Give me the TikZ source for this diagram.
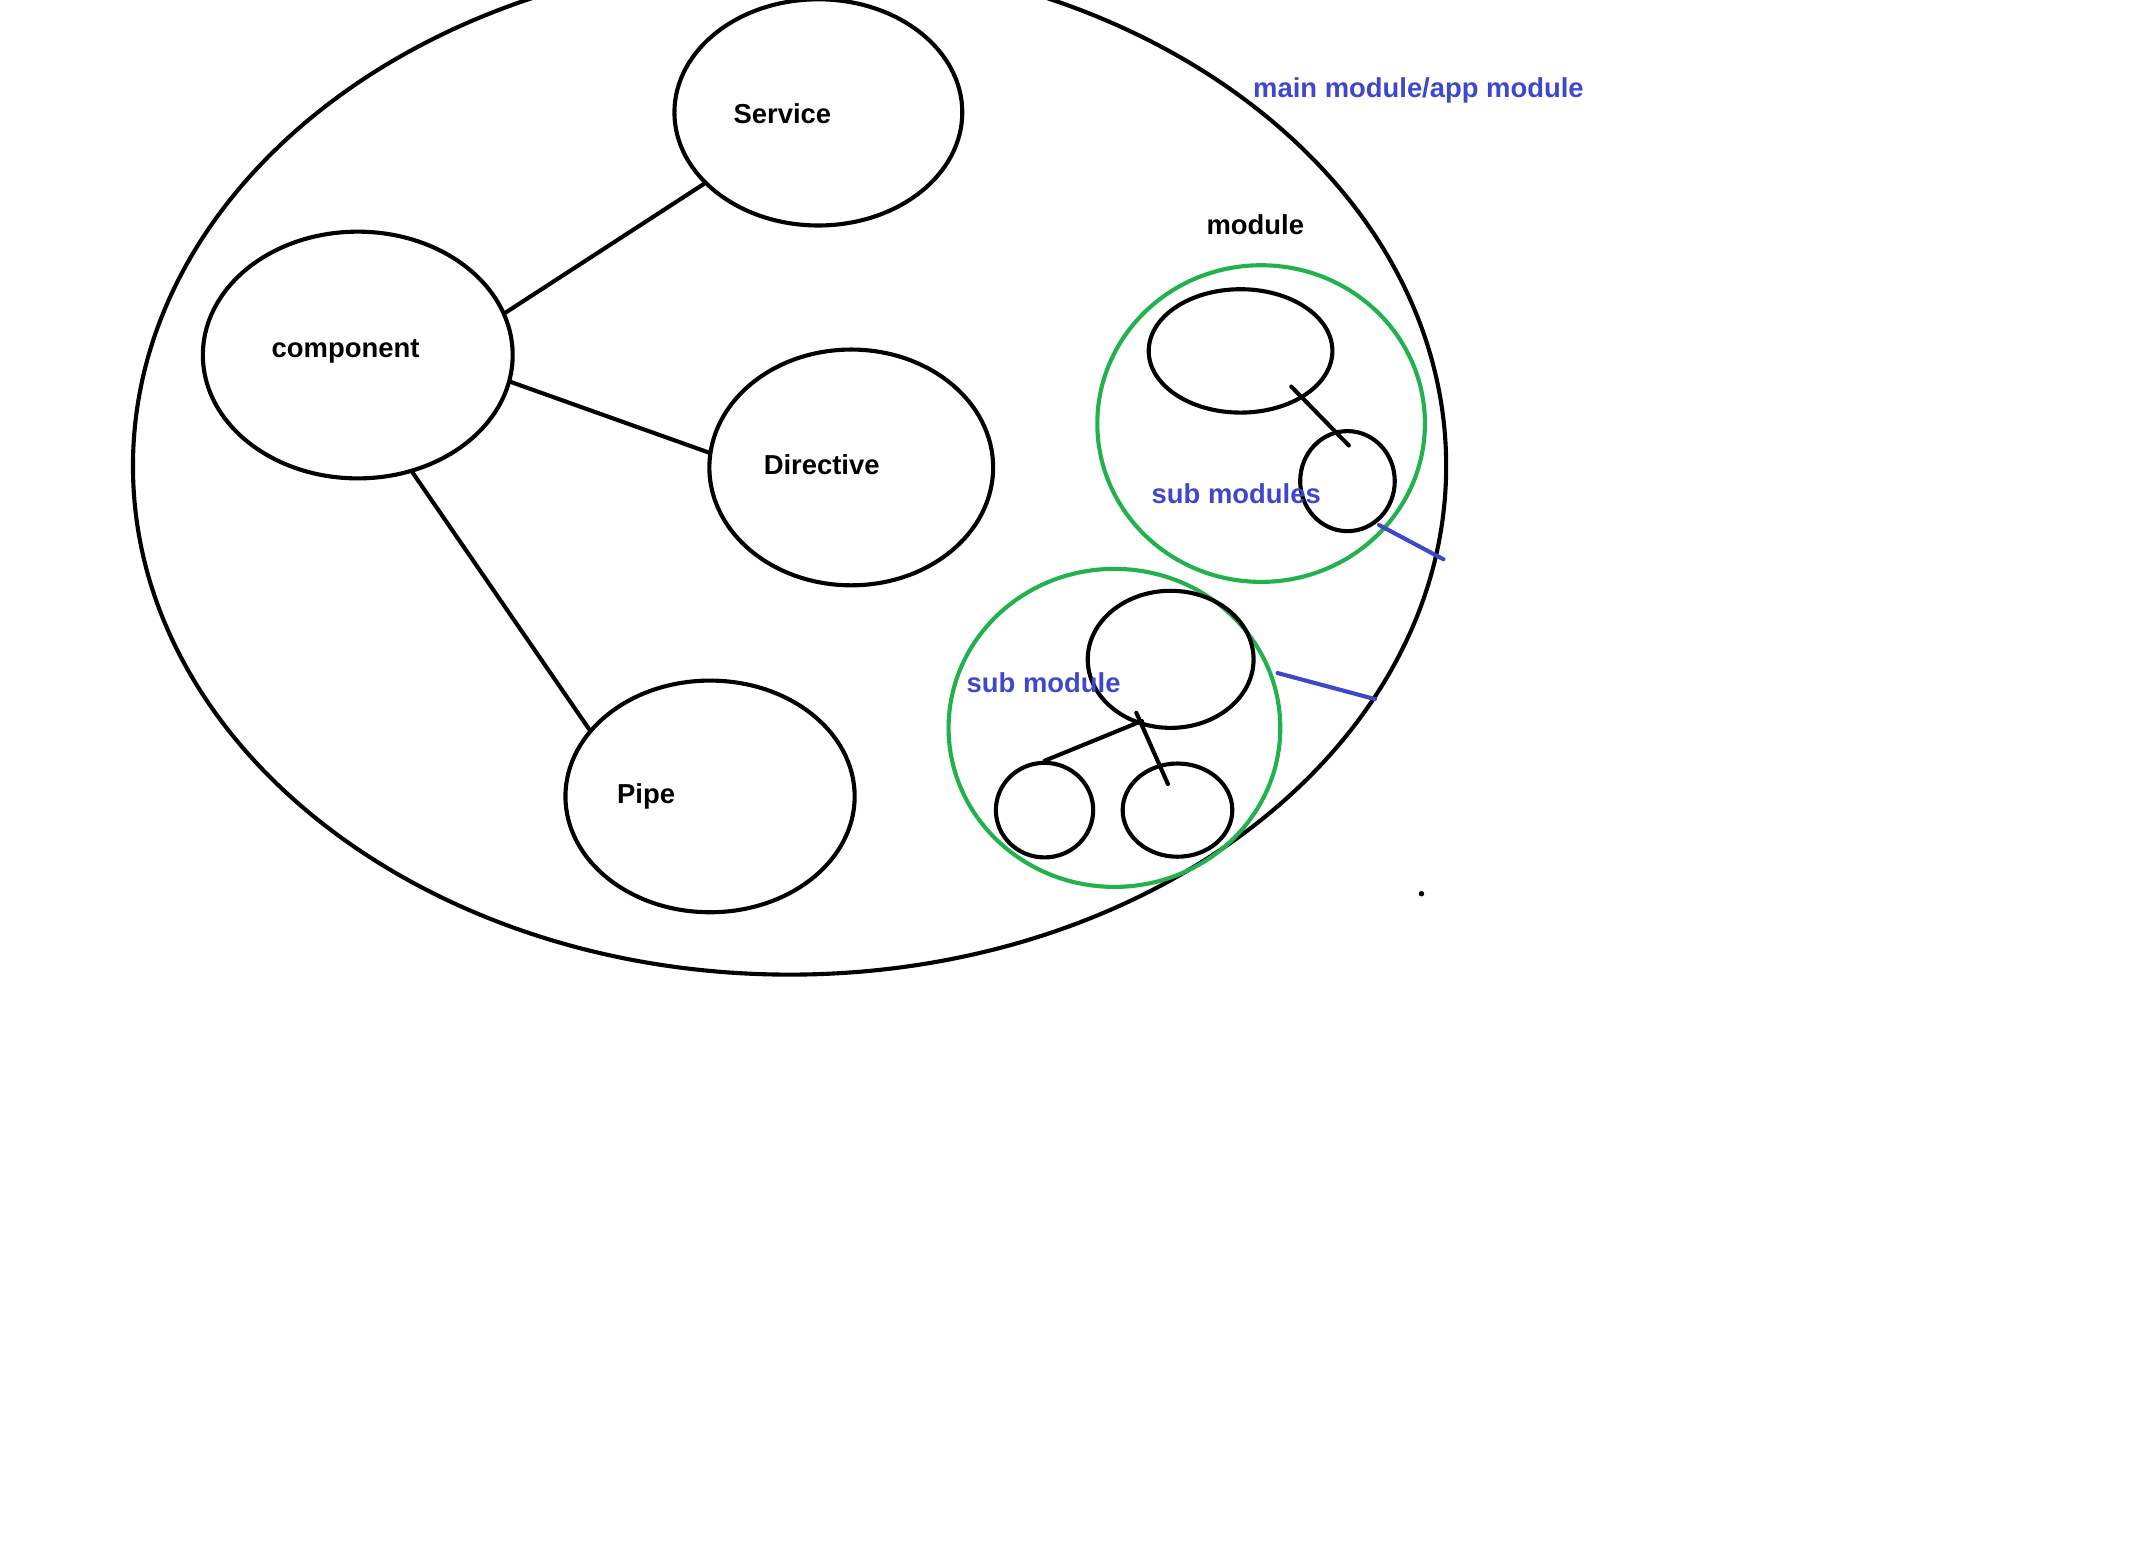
\documentclass[tikz,border=0pt]{standalone}
\usepackage{fontspec}
\setmainfont{Liberation Sans}
\usetikzlibrary{shapes.geometric}
\definecolor{pblue}{HTML}{3F48CC}
\definecolor{pgreen}{HTML}{22B14C}
\begin{document}
\begin{tikzpicture}[x=1pt,y=-1pt,
  oval/.style={draw=black,line width=3pt,ellipse,inner sep=0pt},
  grp/.style={draw=pgreen,line width=3pt,ellipse,inner sep=0pt},
  lbl/.style={font=\fontsize{20}{24}\selectfont\bfseries,inner sep=0pt,anchor=base west},
  bl/.style={lbl,text=pblue},
  link/.style={line width=3pt,line cap=round},
  blink/.style={link,draw=pblue}]
\useasboundingbox[fill=white] (0,0) rectangle (1567,1131);
% main ellipse
\node[oval,minimum width=958pt,minimum height=742pt] (main) at (576,340) {};
% elements
\node[oval,minimum width=210pt,minimum height=165pt] (serv) at (597,82) {};
\node[oval,minimum width=226pt,minimum height=180pt] (comp) at (261,259) {};
\node[oval,minimum width=207pt,minimum height=172pt] (dir) at (621,341) {};
\node[oval,minimum width=211pt,minimum height=169pt] (pipe) at (518,581) {};
\node[lbl] (tserv) at (535,90) {Service};
\node[lbl] (tcomp) at (198,261) {component};
\node[lbl] (tdir) at (557,346) {Directive};
\node[lbl] (tpipe) at (450,586) {Pipe};
\draw[link] (comp.16) -- (serv.212);
\draw[link] (comp.-10) -- (dir.174);
\draw[link] (comp.-65) -- (pipe.151);
% labels
\node[bl] (tmain) at (914,71) {main module/app module};
\node[lbl] (tmod) at (880,171) {module};
% module group 1
\node[grp,minimum width=239pt,minimum height=231pt] (g1) at (920,309) {};
\node[oval,minimum width=134pt,minimum height=90pt] (a) at (905,256) {};
\node[oval,minimum width=69pt,minimum height=73pt] (b) at (983,351) {};
\coordinate (a1) at (942,282);
\coordinate (b1) at (984,325);
\draw[link] (a1) -- (b1);
\node[bl] (tsubs) at (840,367) {sub modules};
\coordinate (p1) at (1006,383);
\coordinate (p2) at (1053,408);
\draw[blink] (p1) -- (p2);
% module group 2
\node[grp,minimum width=242pt,minimum height=232pt] (g2) at (813,531) {};
\node[oval,minimum width=121pt,minimum height=100pt] (c) at (854,481) {};
\node[oval,minimum width=71pt,minimum height=69pt] (d) at (762,591) {};
\node[oval,minimum width=80pt,minimum height=68pt] (e) at (859,591) {};
\coordinate (c1) at (833,526);
\coordinate (c2) at (829,520);
\coordinate (e1) at (852,572);
\draw[link] (d.north) -- (c1);
\draw[link] (c2) -- (e1);
\node[bl] (tsub) at (705,505) {sub module};
\coordinate (q1) at (932,491);
\coordinate (q2) at (1003,510);
\draw[blink] (q1) -- (q2);
% stray dot
\fill (1037,652) circle (2pt);
\end{tikzpicture}
\end{document}
